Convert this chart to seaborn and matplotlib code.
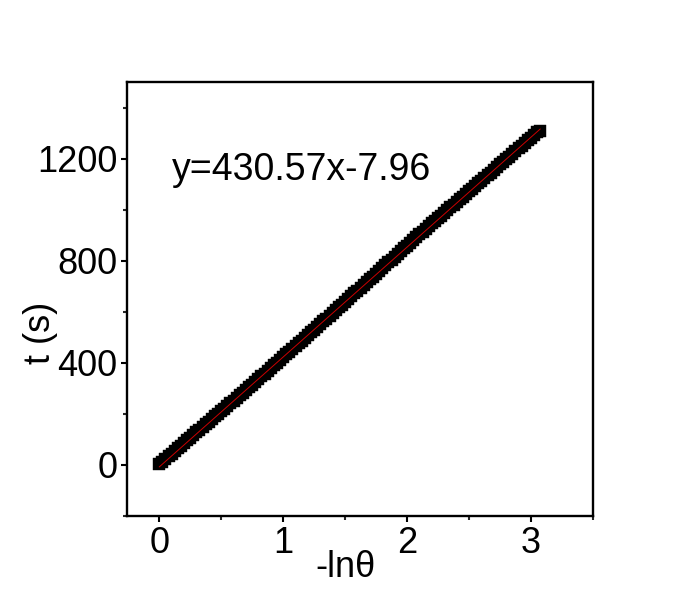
import matplotlib
matplotlib.use("Agg")
import matplotlib.pyplot as plt
from matplotlib.ticker import MultipleLocator
import numpy as np
import pandas as pd
import seaborn as sns

# ---- data ----
neg_ln_theta = [0.000, 0.025, 0.050, 0.075, 0.100, 0.125, 0.150, 0.175, 0.200, 0.225,
                0.250, 0.275, 0.300, 0.325, 0.350, 0.375, 0.400, 0.425, 0.450, 0.475,
                0.500, 0.525, 0.550, 0.575, 0.600, 0.625, 0.650, 0.675, 0.700, 0.725,
                0.750, 0.775, 0.800, 0.825, 0.850, 0.875, 0.900, 0.925, 0.950, 0.975,
                1.000, 1.025, 1.050, 1.075, 1.100, 1.125, 1.150, 1.175, 1.200, 1.225,
                1.250, 1.275, 1.300, 1.325, 1.350, 1.375, 1.400, 1.425, 1.450, 1.475,
                1.500, 1.525, 1.550, 1.575, 1.600, 1.625, 1.650, 1.675, 1.700, 1.725,
                1.750, 1.775, 1.800, 1.825, 1.850, 1.875, 1.900, 1.925, 1.950, 1.975,
                2.000, 2.025, 2.050, 2.075, 2.100, 2.125, 2.150, 2.175, 2.200, 2.225,
                2.250, 2.275, 2.300, 2.325, 2.350, 2.375, 2.400, 2.425, 2.450, 2.475,
                2.500, 2.525, 2.550, 2.575, 2.600, 2.625, 2.650, 2.675, 2.700, 2.725,
                2.750, 2.775, 2.800, 2.825, 2.850, 2.875, 2.900, 2.925, 2.950, 2.975,
                3.000, 3.025, 3.050, 3.075]
t_seconds = [4, 12, 22, 33, 44, 55, 65, 76, 86, 97,
             107, 117, 128, 138, 149, 159, 169, 180, 190, 200,
             210, 221, 231, 242, 252, 262, 273, 283, 294, 304,
             315, 326, 336, 347, 358, 368, 379, 390, 400, 411,
             422, 433, 443, 454, 465, 476, 486, 497, 508, 519,
             530, 540, 551, 562, 573, 584, 595, 606, 617, 628,
             639, 650, 661, 672, 683, 694, 705, 716, 727, 738,
             749, 760, 771, 782, 793, 804, 815, 826, 837, 848,
             859, 870, 881, 892, 903, 914, 925, 935, 946, 956,
             967, 977, 988, 998, 1009, 1019, 1030, 1040, 1051, 1061,
             1072, 1082, 1093, 1103, 1114, 1124, 1135, 1145, 1156, 1166,
             1177, 1187, 1198, 1208, 1219, 1229, 1240, 1250, 1261, 1271,
             1282, 1292, 1303, 1308]
fit_slope = 430.57
fit_intercept = -7.96
fit_label = "y=430.57x-7.96"
x_ticks = [0, 1, 2, 3]
y_ticks = [0, 400, 800, 1200]

sns.set_theme(style="ticks")
plt.rcParams["font.family"] = ["Liberation Sans", "DejaVu Sans"]

df = pd.DataFrame({"x": neg_ln_theta, "t": t_seconds})
x_fit = np.array([min(neg_ln_theta), max(neg_ln_theta)])
fit_df = pd.DataFrame({"x": x_fit, "t": fit_slope * x_fit + fit_intercept})

fig = plt.figure(figsize=(6.73, 6.12), dpi=100)
ax = fig.add_axes([0.1887, 0.1569, 0.881 - 0.1887, 0.866 - 0.1569])

sns.scatterplot(data=df, x="x", y="t", ax=ax, marker="s", s=70,
                color="black", edgecolor="black", linewidth=0.3, zorder=2)
sns.lineplot(data=fit_df, x="x", y="t", ax=ax, color="#cc0000",
             linewidth=0.7, zorder=3)

ax.set_xlim(-0.26, 3.5)
ax.set_ylim(-200, 1500)
ax.set_xticks(x_ticks)
ax.set_yticks(y_ticks)
ax.xaxis.set_minor_locator(MultipleLocator(0.5))
ax.yaxis.set_minor_locator(MultipleLocator(200))

ax.tick_params(axis="both", which="major", direction="out", length=4,
               width=1.5, labelsize=26, pad=3, colors="black",
               top=False, right=False)
ax.tick_params(axis="both", which="minor", direction="out", length=3,
               width=1.5, top=False, right=False)

for sp in ax.spines.values():
    sp.set_visible(True)
    sp.set_linewidth(1.7)
    sp.set_color("black")

ax.set_xlabel("-lnθ", fontsize=26, color="black")
ax.set_ylabel("t (s)", fontsize=26, color="black")
ax.xaxis.set_label_coords(0.468, -0.078)
ax.yaxis.set_label_coords(-0.148, 0.422)

ax.text(0.105, 1115, fit_label, fontsize=27, ha="left", va="baseline",
        color="black")

fig.savefig("out.png", dpi=100, facecolor="white")
